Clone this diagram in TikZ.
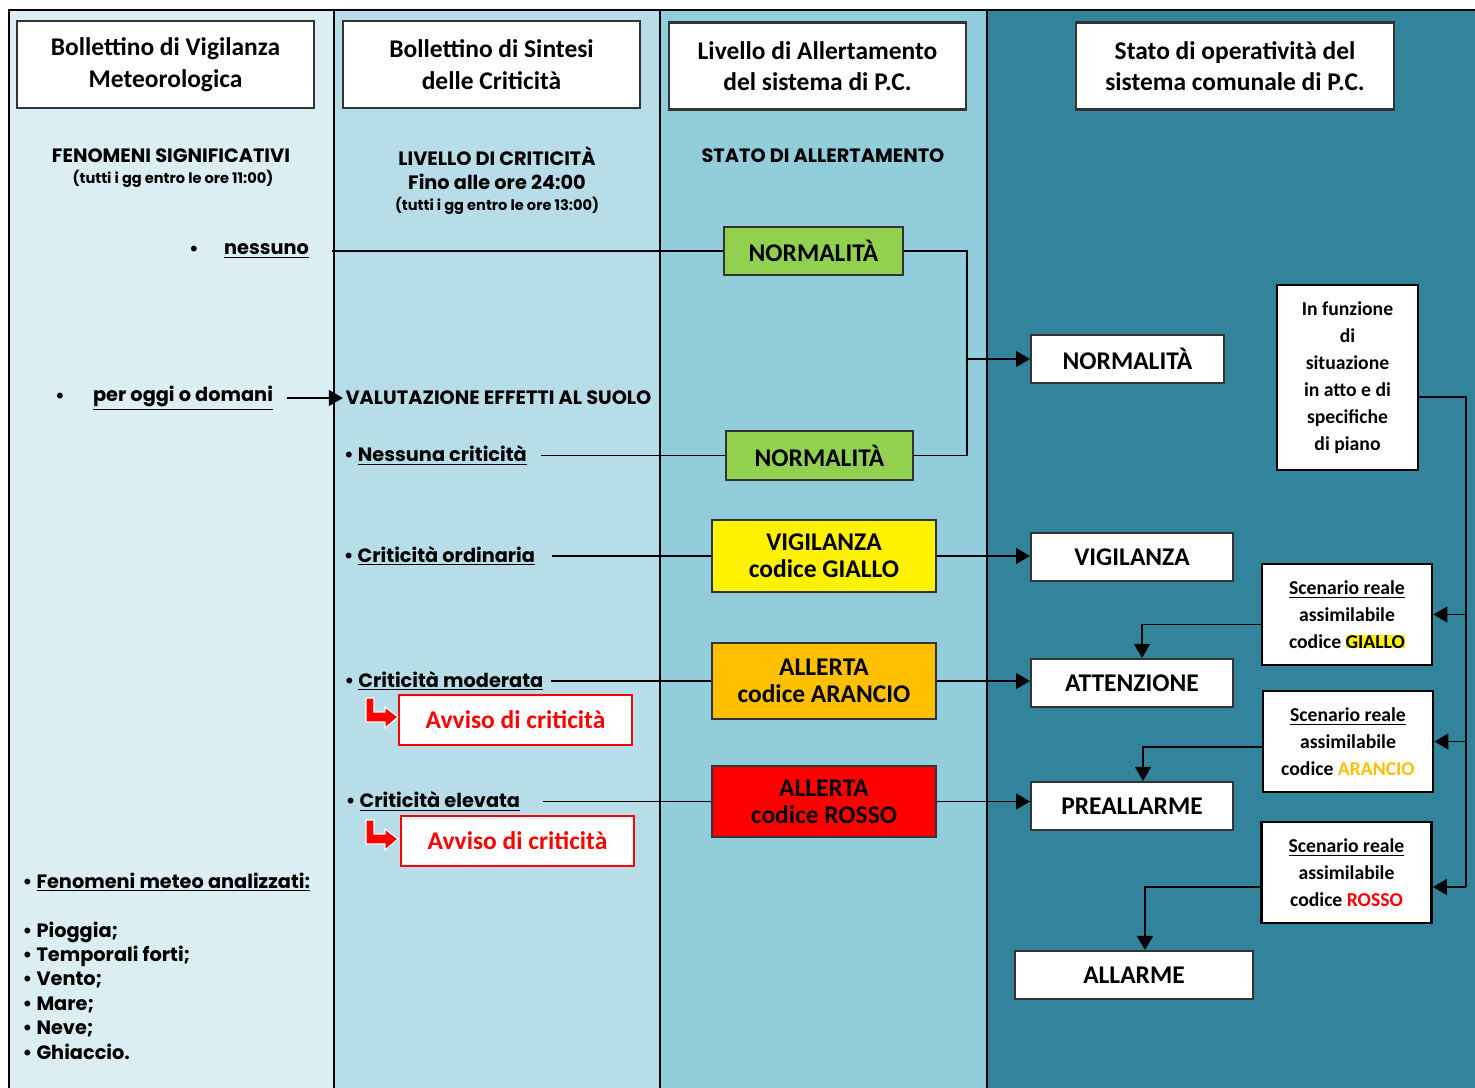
\documentclass[tikz,border=0pt]{standalone}
\usepackage{fontspec}
\setmainfont{Carlito}
\newfontfamily\gothic{Poppins}
\usetikzlibrary{positioning,arrows.meta}

\definecolor{colA}{HTML}{DAEEF3}
\definecolor{colB}{HTML}{B7DEE8}
\definecolor{colC}{HTML}{92CDDC}
\definecolor{colD}{HTML}{31849B}
\definecolor{verde}{HTML}{92D050}
\definecolor{arancio}{HTML}{FFC000}

\newcommand\headfont{\fontsize{14.5}{18}\selectfont\bfseries}
\newcommand\lvlfont{\fontsize{14.5}{15.3}\selectfont\bfseries}
\newcommand\notefont{\fontsize{11.2}{15.3}\selectfont\bfseries}
\newcommand\gtitlefont{\gothic\fontsize{11}{14}\selectfont\bfseries}
\newcommand\gsmallfont{\gothic\fontsize{8.3}{10}\selectfont\bfseries}

\tikzset{
  head/.style={draw=black!80, line width=1.2pt, fill=white, align=center,
    font=\headfont, minimum width=5.94cm, minimum height=1.74cm},
  gtitle/.style={font=\gtitlefont, inner sep=1pt},
  gsmall/.style={font=\gsmallfont, inner sep=1pt},
  lvl/.style={draw=black!80, line width=1.1pt, align=center, font=\lvlfont,
    minimum width=4.48cm},
  stato/.style={draw=black!80, line width=1.1pt, fill=white, font=\lvlfont,
    minimum width=4.04cm, minimum height=0.96cm},
  nota/.style={draw=black, line width=1.6pt, fill=white, align=center,
    font=\notefont, minimum width=3.4cm, minimum height=2.02cm},
  avviso/.style={draw=red, line width=1.5pt, fill=white, text=red,
    font=\lvlfont, minimum width=4.66cm, minimum height=1cm},
  redarr/.style={fill=red, draw=white, line width=0.6pt},
}

\begin{document}
\begin{tikzpicture}[x=0.02cm, y=-0.02cm, line width=1.1pt,
  >={Triangle[length=8pt,width=9pt]}]
\useasboundingbox (0,0) rectangle (1475,1088);
% columns
\fill[white] (0,0) rectangle (1475,1088);
\fill[colA] (9,10) rectangle (334,1088);
\fill[colB] (334,10) rectangle (660,1088);
\fill[colC] (660,10) rectangle (987,1088);
\fill[colD] (987,10) rectangle (1475,1088);
\draw[line width=1.5pt] (9,1088) -- (9,10) -- (1475,10);
\foreach \x in {334,660,987}
  \draw (\x,10) -- (\x,1088);

% headers
\node[head] (h1) at (165.5,64.5) {Bollettino di Vigilanza\\Meteorologica};
\node[head] (h2) at (491.5,64.5) {Bollettino di Sintesi\\delle Criticità};
\node[head] (h3) at (817.5,66) {Livello di Allertamento\\del sistema di P.C.};
\node[head, minimum width=6.36cm] (h4) at (1235,66) {Stato di operatività del\\sistema comunale di P.C.};

\node[gtitle] (fen) at (171,156) {FENOMENI SIGNIFICATIVI};
\node[gsmall] (fenora) at (173,179) {(tutti i gg entro le ore 11:00)};
\node[gtitle] (liv) at (497,156) {LIVELLO DI CRITICITÀ};
\node[gtitle] (fino) at (497,182) {Fino alle ore 24:00};
\node[gsmall] (livora) at (497,206) {(tutti i gg entro le ore 13:00)};
\node[gtitle] (stato) at (823,156) {STATO DI ALLERTAMENTO};

% colonna 1 e 2
\node[gtitle] (bnes) at (194,251) {•};
\node[gtitle] (nes) at (266.5,251) {\underline{nessuno}};
\node[gtitle] (bpog) at (60,398) {•};
\node[gtitle] (pog) at (183,398) {\underline{per oggi o domani}};
\node[gtitle] (val) at (498.5,398) {VALUTAZIONE EFFETTI AL SUOLO};
\node[gtitle] (cnes) at (435.5,455.5) {• \underline{Nessuna criticità}};
\node[gtitle] (cord) at (439.5,556) {• \underline{Criticità ordinaria}};
\node[gtitle] (cmod) at (444,681) {• \underline{Criticità moderata}};
\node[gtitle] (cele) at (433,801.5) {• \underline{Criticità elevata}};

\node[gtitle, anchor=north west, align=left,
  font=\gothic\fontsize{11}{13.9}\selectfont\bfseries] (meteo) at (20,870)
  {• \underline{Fenomeni meteo analizzati:}\\[13.9pt]
   • Pioggia;\\ • Temporali forti;\\ • Vento;\\ • Mare;\\ • Neve;\\ • Ghiaccio.};

% livelli
\node[lvl, fill=verde, minimum width=3.58cm, minimum height=0.96cm] (n1) at (813.5,251) {NORMALITÀ};
\node[lvl, fill=verde, minimum width=3.74cm, minimum height=0.98cm] (n2) at (819.5,455.5) {NORMALITÀ};
\node[lvl, fill=yellow, minimum height=1.44cm] (gia) at (824,556) {VIGILANZA\\codice GIALLO};
\node[lvl, fill=arancio, minimum height=1.52cm] (ara) at (824,681) {ALLERTA\\codice ARANCIO};
\node[lvl, fill=red, minimum height=1.42cm] (ros) at (824,801.5) {ALLERTA\\codice ROSSO};

\node[avviso] (av1) at (515.5,720) {Avviso di criticità};
\node[avviso] (av2) at (517.5,841) {Avviso di criticità};
\draw[redarr, shift={(366,698)}] (0,0) -- (8,0) -- (8,14) -- (19,14) -- (19,9)
  -- (32,19) -- (19,30) -- (19,24) -- (0,24) -- cycle;
\draw[redarr, shift={(366,820)}] (0,0) -- (8,0) -- (8,14) -- (19,14) -- (19,9)
  -- (32,19) -- (19,30) -- (19,24) -- (0,24) -- cycle;

% stati comunali
\node[stato, minimum width=3.86cm] (snor) at (1127.5,359) {NORMALITÀ};
\node[stato] (svig) at (1132,557) {VIGILANZA};
\node[stato] (satt) at (1132,683) {ATTENZIONE};
\node[stato] (spre) at (1132,806) {PREALLARME};
\node[stato, minimum width=4.76cm] (sall) at (1134,975) {ALLARME};

\node[nota, minimum width=2.82cm, minimum height=3.7cm] (fz) at (1347.5,377.5)
  {In funzione\\di\\situazione\\in atto e di\\specifiche\\di piano};
\node[nota] (scg) at (1347,614.5) {\underline{Scenario reale}\\assimilabile\\codice
  {\setlength\fboxsep{0pt}\colorbox{yellow}{GIALLO}}};
\node[nota] (sca) at (1348,741.5) {\underline{Scenario reale}\\assimilabile\\codice
  \textcolor{arancio}{ARANCIO}};
\node[nota] (scr) at (1346.5,872.5) {\underline{Scenario reale}\\assimilabile\\codice
  \textcolor{red}{ROSSO}};

% collegamenti
\draw ([xshift=0.4cm]nes.east) -- (n1.west);
\draw[->] ([xshift=0.22cm]pog.east) -- (val.west);
\draw ([xshift=0.22cm]cnes.east) -- (n2.west);
\draw ([xshift=0.28cm]cord.east) -- (gia.west);
\draw ([xshift=0.1cm]cmod.east) -- (ara.west);
\draw ([xshift=0.4cm]cele.east) -- (ros.west);

\coordinate (jn) at (967,359);
\draw (n1.east) -| (jn);
\draw (n2.east) -| (jn);
\draw[->] (jn) -- (snor.west);
\draw[->] (gia.east) -- (gia.east -| svig.west);
\draw[->] (ara.east) -- (ara.east -| satt.west);
\draw[->] (ros.east) -- (ros.east -| spre.west);

\coordinate (bus) at (1466,887);
\draw ([yshift=-0.39cm]fz.east) -| (bus);
\draw[->] (bus |- scg.east) -- (scg.east);
\draw[->] (bus |- sca.east) -- (sca.east);
\draw[->] (bus) -- (bus -| scr.east);
\draw[->] ([yshift=-0.2cm]scg.west) -| ([xshift=0.2cm]satt.north);
\draw[->] ([yshift=-0.11cm]sca.west) -| ([xshift=0.22cm]spre.north);
\draw[->] ([yshift=-0.29cm]scr.west) -| ([xshift=0.22cm]sall.north);
\end{tikzpicture}
\end{document}
